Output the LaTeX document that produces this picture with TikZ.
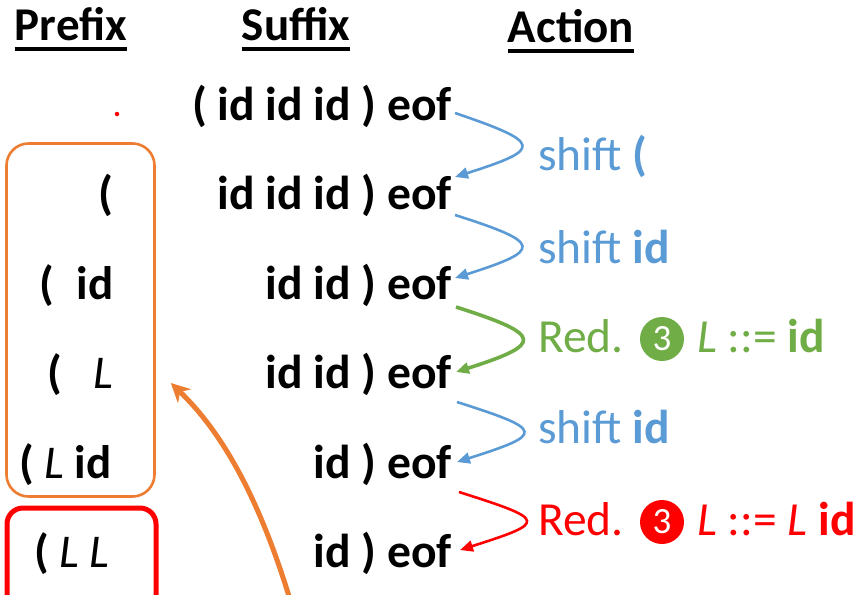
\documentclass[tikz,border=0pt]{standalone}
\usepackage{fontspec}
\setmainfont{Carlito}
\usetikzlibrary{arrows.meta}
\definecolor{actblue}{HTML}{5B9BD5}
\definecolor{actgreen}{HTML}{70AD47}
\definecolor{actorange}{HTML}{ED7D31}
\definecolor{actred}{HTML}{FF0000}
\newcommand\Lit{\textnormal{\itshape L}}
\begin{document}
\begin{tikzpicture}[x=1pt,y=-1pt,
  hdr/.style={font=\bfseries\fontsize{47}{50}\selectfont, anchor=base, inner sep=0},
  sfx/.style={font=\bfseries\fontsize{47.6}{50}\selectfont, anchor=base east, inner sep=0},
  pfx/.style={font=\bfseries\fontsize{47}{50}\selectfont, anchor=base west, inner sep=0},
  act/.style={font=\fontsize{47.5}{50}\selectfont, anchor=base west, inner sep=0},
  num/.style={circle, fill, inner sep=0, minimum size=44, text=white, font=\fontsize{37}{38}\selectfont},
  actarrow/.style={-{Triangle[length=13pt,width=11pt]}, line width=2.6pt},
  underl/.style={line width=3.5pt}
]
\useasboundingbox (0,0) rectangle (861,594);
\clip (0,0) rectangle (861,594);

% column headers
\node[hdr] (hP) at (71,41) {Prefix};
\node[hdr] (hS) at (296,41) {Suffix};
\node[hdr] (hA) at (571,43) {Action};
\foreach \h in {hP,hS,hA}
  \draw[underl] ([yshift=-8pt]\h.base west) -- ([yshift=-8pt]\h.base east);

% empty prefix marker
\node[circle, fill=actred, inner sep=0, minimum size=4.5] (dot) at (117,114) {};

% remaining input
\node[sfx] (s0) at (452,120)   {( id id id ) eof};
\node[sfx] (s1) at (452,209.5) {id id id ) eof};
\node[sfx] (s2) at (452,299)   {id id ) eof};
\node[sfx] (s3) at (452,388.5) {id id ) eof};
\node[sfx] (s4) at (452,478)   {id ) eof};
\node[sfx] (s5) at (452,567)   {id ) eof};

% stack contents
\node[sfx] (p1) at (114,209.5) {(};
\node[pfx] (p2) at (39,299)    {(\hspace{23pt}id};
\node[pfx] (p3) at (47,388.5)  {(\hspace{32pt}\Lit};
\node[pfx] (p4) at (19,478)    {( \Lit{} id};
\node[pfx] (p5) at (34,567)    {( \Lit{} \Lit};

% groupings of prefixes
\node[draw=actorange, line width=2.6pt, rounded corners=22pt,
      minimum width=148, minimum height=353] (obox) at (80.5,320) {};
\node[draw=actred, line width=5pt, rounded corners=16pt,
      minimum width=149, minimum height=130] (rbox) at (81.5,573) {};

% actions
\node[act, text=actblue] (a1) at (538,170) {shift \textbf{(}};
\node[act, text=actblue] (a2) at (538,263) {shift \textbf{id}};
\node[act, text=actgreen] (a3) at (538,352) {Red.};
\node[num, fill=actgreen] (n3) at (662,339) {3};
\node[act, text=actgreen] (r3) at (697,352) {\textit{L} ::= \textbf{id}};
\node[act, text=actblue] (a4) at (538,443) {shift \textbf{id}};
\node[act, text=actred] (a5) at (538,535) {Red.};
\node[num, fill=actred] (n5) at (662,522) {3};
\node[act, text=actred] (r5) at (697,535) {\textit{L} ::= \textit{L} \textbf{id}};

% transitions between configurations
\draw[actarrow, actblue] ([shift={(3,-7)}]s0.base east)
  .. controls +(88,30) and +(88,-28) .. ([shift={(3,-32.5)}]s1.base east);
\draw[actarrow, actblue] ([shift={(3,5.5)}]s1.base east)
  .. controls +(88,28) and +(88,-28) .. ([shift={(3,-21)}]s2.base east);
\draw[actarrow, actgreen, line width=3.6pt] ([shift={(4,8)}]s2.base east)
  .. controls +(88,28) and +(88,-28) .. ([shift={(4,-16.5)}]s3.base east);
\draw[actarrow, actblue] ([shift={(5,13.5)}]s3.base east)
  .. controls +(88,28) and +(88,-28) .. ([shift={(5,-16)}]s4.base east);
\draw[actarrow, actred] ([shift={(7,14)}]s4.base east)
  .. controls +(88,28) and +(88,-28) .. ([shift={(8,-17)}]s5.base east);

% back-reference to the orange group
\coordinate (ofrom) at (296,620);
\draw[-{Stealth[length=19pt,width=19pt]}, actorange, line width=5pt] (ofrom)
  .. controls (262,500) and (222,432) .. ([shift={(15,63)}]obox.east);
\end{tikzpicture}
\end{document}
